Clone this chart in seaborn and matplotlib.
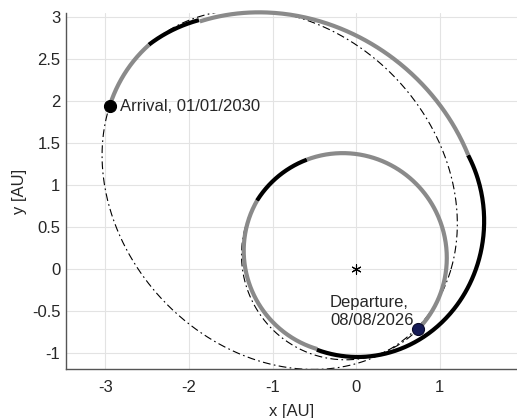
import numpy as np
import pandas as pd
import matplotlib
matplotlib.use("Agg")
import matplotlib.pyplot as plt
import seaborn as sns

# Trajectory pieces as heliocentric conic arcs.
# Longitudes in degrees (continuous over the revolutions), p in AU.
arc_phase = ["coast", "thrust", "coast", "thrust", "coast", "thrust", "coast"]
arc_lon_start = [-44.2, 114.4, 145.5, 244.0, 405.3, 482.4, 492.9]
arc_lon_end = [114.4, 145.5, 244.0, 405.3, 482.4, 492.9, 506.7]
arc_p = [1.204, 1.204, 1.153, 1.412, 2.012, 1.613, 1.585]
arc_e = [0.1666, 0.1666, 0.2067, 0.3493, 0.450, 0.559, 0.565]
arc_peri = [-46.5, -46.5, -51.2, -92.8, -37.9, -42.8, -46.0]

# Reference orbits (dash-dot): orbit right after launch, target orbit
orbit_p = [1.204, 1.585]
orbit_e = [0.1666, 0.565]
orbit_peri = [-46.5, -46.0]

event_labels = ["Departure,\n08/08/2026", "Arrival, 01/01/2030"]

x_ticks = [-3, -2, -1, 0, 1]
y_ticks = [-1, -0.5, 0, 0.5, 1, 1.5, 2, 2.5, 3]
x_tick_labels = ["-3", "-2", "-1", "0", "1"]
y_tick_labels = ["-1", "-0.5", "0", "0.5", "1", "1.5", "2", "2.5", "3"]

phase_color = {"coast": "#8a8a8a", "thrust": "#000000"}


def conic_xy(p, e, peri, lon_deg):
    lon = np.radians(lon_deg)
    r = p / (1.0 + e * np.cos(lon - np.radians(peri)))
    return r * np.cos(lon), r * np.sin(lon)


sns.set_theme(style="whitegrid")
plt.rcParams["font.family"] = ["Liberation Sans", "DejaVu Sans"]
plt.rcParams["axes.unicode_minus"] = False

fig = plt.figure(figsize=(5.17, 4.18), dpi=100)
ax = fig.add_axes([66 / 517, 49 / 418, 451 / 517, 356 / 418])
ax.set_facecolor("white")

# dash-dot reference orbits
for p, e, w in zip(orbit_p, orbit_e, orbit_peri):
    lon = np.linspace(0, 360, 721)
    x, y = conic_xy(p, e, w, lon)
    sns.lineplot(x=x, y=y, sort=False, estimator=None, ax=ax, color="black",
                 lw=0.8, linestyle=(0, (7, 3, 1.5, 3)), zorder=2)

# thrust / coast arcs
for ph, t0, t1, p, e, w in zip(arc_phase, arc_lon_start, arc_lon_end,
                               arc_p, arc_e, arc_peri):
    lon = np.linspace(t0, t1, 200)
    x, y = conic_xy(p, e, w, lon)
    l = sns.lineplot(x=x, y=y, sort=False, estimator=None, ax=ax,
                     color=phase_color[ph], lw=3.0, zorder=3)
    l.lines[-1].set_solid_capstyle("butt")
    l.lines[-1].set_clip_on(False)

# Sun
sns.scatterplot(x=[0.0], y=[0.0], marker=(6, 2, 0), s=45, color="black",
                linewidth=0.8, ax=ax, zorder=5)

# departure and arrival markers
dep_x, dep_y = conic_xy(arc_p[0], arc_e[0], arc_peri[0], arc_lon_start[0])
arr_x, arr_y = conic_xy(arc_p[-1], arc_e[-1], arc_peri[-1], arc_lon_end[-1])
sns.scatterplot(x=[dep_x], y=[dep_y], s=75, color="#151a55", edgecolor="#0a0a2a",
                linewidth=0.8, ax=ax, zorder=6)
sns.scatterplot(x=[arr_x], y=[arr_y], s=75, color="black", edgecolor="black",
                linewidth=0.8, ax=ax, zorder=6)

ax.text(-0.31, -0.505, event_labels[0], fontsize=12, color="#262626",
        ha="left", va="center", linespacing=1.25, zorder=7)
ax.text(arr_x + 0.13, arr_y, event_labels[1], fontsize=12, color="#262626",
        ha="left", va="center", zorder=7)

ax.set_xlim(-3.473, 1.928)
ax.set_ylim(-1.19, 3.048)
ax.set_xticks(x_ticks)
ax.set_xticklabels(x_tick_labels)
ax.set_yticks(y_ticks)
ax.set_yticklabels(y_tick_labels)
ax.tick_params(axis="both", direction="in", length=3, width=0.8,
               colors="#4d4d4d", labelsize=12, labelcolor="#262626")
ax.tick_params(axis="x", pad=8)
ax.tick_params(axis="y", pad=4)
ax.grid(True, color="#e3e3e3", linewidth=0.8)
for side in ["top", "right"]:
    ax.spines[side].set_visible(False)
for side in ["left", "bottom"]:
    ax.spines[side].set_color("#555555")
    ax.spines[side].set_linewidth(1.0)

ax.set_xlabel("x [AU]", fontsize=12, color="#262626")
ax.set_ylabel("y [AU]", fontsize=12, color="#262626")
ax.xaxis.set_label_coords(0.5, -0.118)
ax.xaxis.label.set_va("center")
ax.yaxis.set_label_coords(-0.102, 0.5)
ax.yaxis.label.set_va("center")

fig.savefig("out.png", dpi=100)
